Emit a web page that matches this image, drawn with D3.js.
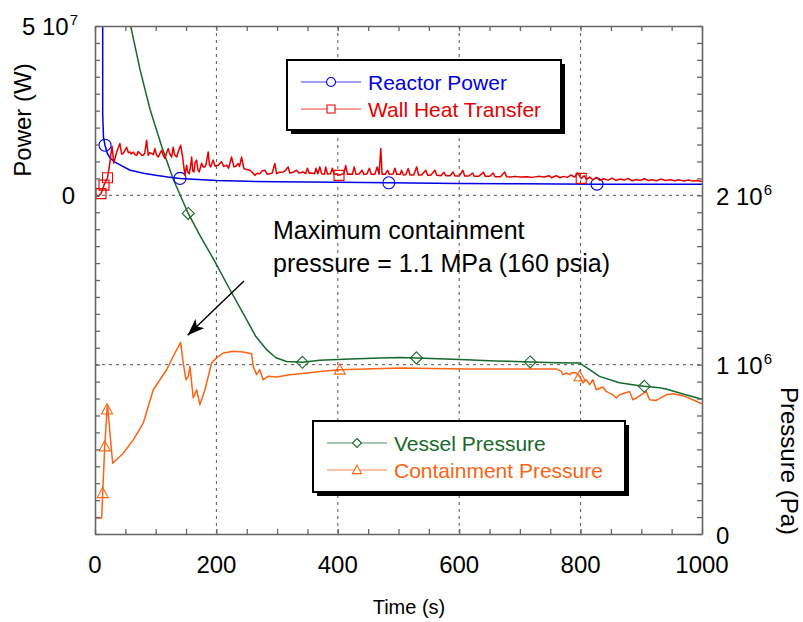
<!DOCTYPE html>
<html>
<head>
<meta charset="utf-8">
<script src="https://cdn.jsdelivr.net/npm/d3@7"></script>
<style>
  body { margin: 0; background: #fff; }
  svg { display: block; }
  text { font-family: "Liberation Sans", Arial, Helvetica, sans-serif; }
</style>
</head>
<body>
<svg id="chart" width="803" height="622"></svg>
<script>
// ---- data: time in s, power in MW, pressure in MPa ----
const reactorPower = [
  [0, 3000], [12.3, 3000], [12.7, 24], [14, 17], [16.5, 14.8], [20, 12.5], [25, 11],
  [33, 9.8], [45, 8.6], [58, 7.4], [80, 6.5], [100, 5.9], [120, 5.4], [140, 5.0],
  [170, 4.7], [200, 4.4], [250, 4.15], [300, 4.0], [400, 3.85], [484, 3.7],
  [600, 3.5], [700, 3.4], [827, 3.3], [1000, 3.3]
];
const powerMarkerTimes = [16.5, 140, 484, 827];

const wallHeat = [
  [0, 0], [5, -0.3], [9.9, 0.5], [14.8, 3.0], [20.6, 5.2], [24, 9.0], [28, 14.5], [31, 9.5],
  [35.7, 12.8], [41, 15.3], [44, 12.2], [46.6, 12.4], [52, 14.2], [55, 12.6], [57.6, 12.8],
  [60, 12.2], [63, 12.8], [66, 12.0], [68.6, 11.8], [71, 12.9], [74, 12.4], [77, 11.8],
  [79.5, 11.8], [82, 12.5], [85, 16.3], [87.8, 11.8], [90, 12.6], [93.3, 12.4], [96, 12.0],
  [98.8, 13.8], [101, 12.0], [104.2, 11.3], [107, 12.4], [109.8, 13.3], [112, 12.0],
  [115.2, 10.9], [118, 12.6], [120.7, 13.8], [123, 12.4], [126.2, 11.3], [128.9, 14.2],
  [131, 12.0], [134.5, 11.3], [137, 12.8], [141.1, 14.8], [144.4, 11.3], [148.1, 5.9],
  [150.9, 8.9], [153, 6.8], [155.3, 6.4], [157, 8.0], [159.2, 11.3], [161, 7.2], [163, 6.9],
  [165, 9.8], [167.4, 10.4], [169.5, 7.5], [171.7, 6.9], [175.6, 9.5], [178, 8.4], [181, 8.4],
  [183, 9.2], [186.5, 12.8], [188.5, 9.0], [190.4, 8.4], [194.7, 10.4], [198, 8.6], [203, 8.9],
  [206, 9.5], [208.5, 9.9], [212, 8.5], [216.8, 8.9], [220, 8.0], [225, 11.3], [228.8, 8.4],
  [232, 8.6], [235.9, 9.4], [238, 8.5], [241.5, 11.3], [245.3, 7.9], [250, 7.6], [255.1, 7.4],
  [259, 6.8], [263.4, 5.9], [267, 6.5], [271.6, 6.4], [275, 7.2], [279.8, 7.4], [284, 6.2],
  [288, 6.4], [292, 6.6], [296.3, 9.4], [299.1, 6.4], [304, 6.8], [310, 6.9], [314, 7.4],
  [318.2, 8.4], [321, 6.6], [326, 6.8], [332, 7.4], [336, 6.6], [342.9, 6.9], [347, 6.4],
  [350, 8.0], [353, 6.5], [356.6, 6.6], [362, 6.4], [364, 8.0], [367, 6.4], [370.4, 8.4],
  [373.2, 6.4], [378, 6.2], [380, 8.4], [383, 6.3], [388, 6.4], [391, 8.0], [394, 6.2],
  [398, 6.3], [402, 5.9], [406, 6.2], [410, 6.4], [413, 8.8], [416, 6.2], [420, 6.3],
  [424, 6.2], [427, 8.4], [430, 6.2], [435, 6.3], [440, 7.4], [443, 6.2], [448, 6.3],
  [452, 8.0], [455, 6.2], [461, 6.2], [465, 8.4], [468, 6.2], [470.8, 13.8], [473, 6.2],
  [478, 6.2], [482, 7.4], [485, 6.2], [491, 6.3], [494, 8.0], [497, 6.2], [503, 6.2],
  [505, 7.4], [508, 6.0], [512, 6.1], [516, 7.9], [519, 6.0], [525, 6.0], [530, 8.4],
  [533, 6.0], [538, 6.0], [545, 7.4], [548, 5.9], [553, 5.9], [560, 7.4], [563, 5.9],
  [570, 5.8], [575, 6.8], [578, 5.8], [585, 5.8], [590, 6.9], [593, 5.7], [600, 5.7],
  [606, 7.4], [609, 5.7], [616, 5.7], [622, 6.6], [625, 5.6], [632, 5.6], [640, 6.8],
  [643, 5.6], [650, 5.6], [656, 6.6], [659, 5.5], [668, 5.5], [675, 6.9], [678, 5.5],
  [685, 5.4], [692, 5.6], [700, 5.4], [712, 5.5], [720, 5.3], [730, 5.6], [740, 5.4],
  [748, 5.8], [752, 5.2], [760, 5.8], [766, 5.2], [772, 5.6], [778, 5.3], [784, 6.0],
  [790, 5.4], [795, 6.6], [801, 5.0], [806, 5.8], [810, 4.7], [815, 5.4], [820, 4.6],
  [826, 5.3], [832, 4.4], [838, 4.9], [845, 4.5], [852, 5.1], [858, 4.4], [865, 4.8],
  [872, 4.5], [878, 5.0], [885, 4.3], [892, 4.7], [898, 4.4], [905, 4.9], [912, 4.4],
  [918, 4.6], [925, 4.3], [932, 4.8], [940, 4.4], [948, 4.6], [955, 4.3], [962, 4.6],
  [970, 4.2], [978, 4.5], [985, 4.2], [992, 4.4], [1000, 4.1]
];
const wallMarkerTimes = [9.9, 14.8, 20.6, 402, 801];

const vesselPressure = [
  [0, 7.0], [20, 5.6], [40, 4.1], [58.8, 3.0], [74, 2.745], [90.5, 2.51], [109.8, 2.29],
  [128.9, 2.095], [153.6, 1.893], [172.8, 1.763], [197.5, 1.609], [222.2, 1.444],
  [249.7, 1.266], [265, 1.166], [282.6, 1.089], [298, 1.041], [315.6, 1.019], [341.7, 1.014],
  [370, 1.026], [420, 1.034], [470, 1.040], [502, 1.043], [529.5, 1.040], [601, 1.030],
  [660, 1.022], [717, 1.016], [760, 1.012], [798, 1.010], [815, 0.970], [831, 0.931],
  [864, 0.893], [897, 0.876], [905, 0.872], [930, 0.864], [941, 0.856], [970, 0.825],
  [996, 0.800], [1000, 0.798]
];
const vesselMarkerTimes = [153.6, 341.7, 529.5, 717, 905];

const containmentPressure = [
  [0, 0.095], [11.0, 0.095], [12.7, 0.241], [16.0, 0.517], [19.8, 0.735], [20.4, 0.763],
  [29.1, 0.418], [46.6, 0.477], [63.0, 0.556], [79.5, 0.655], [96.0, 0.852], [118.0, 0.970],
  [131.7, 1.069], [141.1, 1.132], [145.3, 1.010], [149.8, 0.911], [153.6, 0.931],
  [156.4, 0.990], [161.8, 0.803], [167.4, 0.852], [172.8, 0.763], [181.1, 0.852],
  [192.1, 1.010], [200.3, 1.040], [211.2, 1.069], [227.7, 1.079], [244.1, 1.075],
  [257.9, 1.065], [260.6, 0.990], [266.2, 0.941], [271.6, 0.970], [277.0, 0.911],
  [285.3, 0.931], [299.1, 0.927], [321.0, 0.941], [348.5, 0.951], [370.4, 0.960],
  [403.3, 0.970], [502, 0.980], [611.9, 0.975], [760, 0.975], [768.2, 0.960], [770.9, 0.941],
  [776.5, 0.951], [781.9, 0.941], [786.8, 0.954], [792.9, 0.951], [798.4, 0.931],
  [803.8, 0.892], [809.4, 0.911], [814.8, 0.882], [820.2, 0.911], [825.8, 0.852],
  [836.7, 0.868], [842.3, 0.842], [853.2, 0.822], [858.8, 0.803], [864.2, 0.822],
  [880.7, 0.842], [886.1, 0.793], [891.7, 0.803], [908.2, 0.842], [913.6, 0.793],
  [924.6, 0.789], [941.1, 0.822], [952.0, 0.828], [968.4, 0.817], [984.9, 0.793],
  [1000, 0.769]
];
const containmentMarkerTimes = [12.7, 16.0, 19.8, 403.3, 798.4];

// ---- axis ticks and labels ----
const timeTicks = d3.range(0, 1001, 50);
const timeLabels = [0, 200, 400, 600, 800, 1000];
const timeGrid = [200, 400, 600, 800];
const powerTicks = d3.range(-100e6, 50e6 + 1, 5e6);
const powerLabels = [{ v: 0, base: "0" }, { v: 5e7, base: "5 10", exp: "7" }];
const pressureTicks = d3.range(0, 3e6 + 1, 1e5);
const pressureLabels = [
  { v: 0, base: "0" }, { v: 1e6, base: "1 10", exp: "6" }, { v: 2e6, base: "2 10", exp: "6" }
];
const pressureGrid = [1e6, 2e6];

const MW = 1e6, MPa = 1e6;

// ---- layout ----
const plot = { left: 95, right: 702, top: 26, bottom: 534 };
const svg = d3.select("#chart");

const x = d3.scaleLinear().domain([0, 1000]).range([plot.left, plot.right]);
const yPower = d3.scaleLinear().domain([-100e6, 50e6]).range([plot.bottom, plot.top]);
const yPress = d3.scaleLinear().domain([0, 3e6]).range([plot.bottom, plot.top]);

const colors = {
  power: "#0000e6", wall: "#e60000", vessel: "#17692b", containment: "#fa6414",
  axis: "#666", grid: "#555"
};

const defs = svg.append("defs");
defs.append("clipPath").attr("id", "plotClip")
  .append("rect")
  .attr("x", plot.left).attr("y", plot.top)
  .attr("width", plot.right - plot.left).attr("height", plot.bottom - plot.top);

// dashed grid lines
const grid = svg.append("g").attr("stroke", colors.grid).attr("stroke-width", 1)
  .attr("stroke-dasharray", "3,4");
grid.selectAll("line.v").data(timeGrid).join("line").attr("class", "v")
  .attr("x1", d => x(d)).attr("x2", d => x(d))
  .attr("y1", plot.top).attr("y2", plot.bottom);
grid.selectAll("line.h").data(pressureGrid).join("line").attr("class", "h")
  .attr("x1", plot.left).attr("x2", plot.right)
  .attr("y1", d => yPress(d)).attr("y2", d => yPress(d));

// marker shapes
function markerPath(kind, s) {
  const h = s / 2;
  if (kind === "circle") return d3.arc()({ innerRadius: 0, outerRadius: h, startAngle: 0, endAngle: 2 * Math.PI });
  if (kind === "square") return `M${-h},${-h}H${h}V${h}H${-h}Z`;
  if (kind === "diamond") return `M0,${-h}L${h},0L0,${h}L${-h},0Z`;
  if (kind === "triangle") return `M0,${-h * 1.05}L${h},${h * 0.8}L${-h},${h * 0.8}Z`;
}

const series = [
  { data: reactorPower, markers: powerMarkerTimes, y: d => yPower(d * MW), color: colors.power, kind: "circle", size: 12 },
  { data: wallHeat, markers: wallMarkerTimes, y: d => yPower(d * MW), color: colors.wall, kind: "square", size: 10 },
  { data: vesselPressure, markers: vesselMarkerTimes, y: d => yPress(d * MPa), color: colors.vessel, kind: "diamond", size: 12 },
  { data: containmentPressure, markers: containmentMarkerTimes, y: d => yPress(d * MPa), color: colors.containment, kind: "triangle", size: 11 }
];

const lines = svg.append("g").attr("clip-path", "url(#plotClip)");
// pressures first, power curves drawn over them
[series[3], series[2], series[0], series[1]].forEach(s => {
  const line = d3.line().x(d => x(d[0])).y(d => s.y(d[1]));
  lines.append("path").datum(s.data)
    .attr("d", line).attr("fill", "none")
    .attr("stroke", s.color).attr("stroke-width", 1.5).attr("stroke-linejoin", "round");
  const pts = s.markers.map(t => s.data.find(d => d[0] === t)).filter(Boolean);
  lines.selectAll(null).data(pts).join("path")
    .attr("transform", d => `translate(${x(d[0])},${s.y(d[1])})`)
    .attr("d", markerPath(s.kind, s.size))
    .attr("fill", "none").attr("stroke", s.color).attr("stroke-width", 1.1);
});

// frame with inward ticks on all four sides
const axes = svg.append("g");
function styleAxis(g) {
  g.select(".domain").attr("stroke", colors.axis).attr("stroke-width", 1.6);
  g.selectAll(".tick line").attr("stroke", colors.axis).attr("stroke-width", 1.3);
}
axes.append("g").attr("transform", `translate(0,${plot.bottom})`)
  .call(d3.axisBottom(x).tickValues(timeTicks).tickSize(-5).tickSizeOuter(0).tickFormat(""))
  .call(styleAxis);
axes.append("g").attr("transform", `translate(0,${plot.top})`)
  .call(d3.axisTop(x).tickValues(timeTicks).tickSize(-5).tickSizeOuter(0).tickFormat(""))
  .call(styleAxis);
axes.append("g").attr("transform", `translate(${plot.left},0)`)
  .call(d3.axisLeft(yPower).tickValues(powerTicks).tickSize(-5).tickSizeOuter(0).tickFormat(""))
  .call(styleAxis);
axes.append("g").attr("transform", `translate(${plot.right},0)`)
  .call(d3.axisRight(yPress).tickValues(pressureTicks).tickSize(-5).tickSizeOuter(0).tickFormat(""))
  .call(styleAxis);

// tick labels
const labelSize = 24;
svg.append("g").selectAll("text").data(timeLabels).join("text")
  .attr("x", d => x(d)).attr("y", 573)
  .attr("text-anchor", "middle").attr("font-size", labelSize).attr("fill", "#000")
  .text(d => d);

function sciLabel(g, d, anchor) {
  const t = g.append("text").attr("font-size", labelSize).attr("fill", "#000")
    .attr("text-anchor", anchor);
  t.append("tspan").text(d.base);
  if (d.exp) t.append("tspan").attr("font-size", 15).attr("dy", -10).attr("dx", 1).text(d.exp);
  return t;
}
const leftLab = svg.append("g");
powerLabels.forEach(d => {
  sciLabel(leftLab, d, "end").attr("x", d.exp ? 78 : 75)
    .attr("y", Math.max(yPower(d.v) + 9, 33));
});
const rightLab = svg.append("g");
pressureLabels.forEach(d => {
  sciLabel(rightLab, d, "start").attr("x", 716).attr("y", yPress(d.v) + 9.5);
});

// axis titles
svg.append("text").attr("x", 409).attr("y", 614)
  .attr("text-anchor", "middle").attr("font-size", 20).text("Time (s)");
svg.append("text").attr("transform", "translate(31,120) rotate(-90)")
  .attr("text-anchor", "middle").attr("font-size", 24).text("Power (W)");
svg.append("text").attr("transform", "translate(781,461) rotate(90)")
  .attr("text-anchor", "middle").attr("font-size", 24).text("Pressure (Pa)");

// legends
function legend(box, items) {
  const g = svg.append("g");
  g.append("rect").attr("x", box.x + 4).attr("y", box.y + 4)
    .attr("width", box.w).attr("height", box.h).attr("fill", "#000");
  g.append("rect").attr("x", box.x).attr("y", box.y)
    .attr("width", box.w).attr("height", box.h)
    .attr("fill", "#fff").attr("stroke", "#000").attr("stroke-width", 2);
  items.forEach((it, i) => {
    const cy = box.y + box.row0 + i * box.rowGap;
    g.append("line").attr("x1", box.x + 14).attr("x2", box.x + 74)
      .attr("y1", cy).attr("y2", cy).attr("stroke", it.color).attr("stroke-width", 1.2)
      .attr("opacity", 0.75);
    g.append("path").attr("transform", `translate(${box.x + 44},${cy})`)
      .attr("d", markerPath(it.kind, it.size))
      .attr("fill", "#fff").attr("stroke", it.color).attr("stroke-width", 1.1);
    g.append("text").attr("x", box.x + 81).attr("y", cy + 7.5)
      .attr("font-size", 21).attr("fill", it.color).text(it.name);
  });
}
legend({ x: 287, y: 60, w: 274, h: 70, row0: 22, rowGap: 27 }, [
  { name: "Reactor Power", color: colors.power, kind: "circle", size: 9 },
  { name: "Wall Heat Transfer", color: colors.wall, kind: "square", size: 8 }
]);
legend({ x: 313, y: 421, w: 312, h: 71, row0: 22, rowGap: 27 }, [
  { name: "Vessel Pressure", color: colors.vessel, kind: "diamond", size: 9 },
  { name: "Containment Pressure", color: colors.containment, kind: "triangle", size: 9 }
]);

// annotation pointing at the containment peak
const peak = containmentPressure.reduce((a, b) => (b[1] > a[1] ? b : a));
const note = svg.append("g");
note.append("text").attr("x", 273).attr("y", 239).attr("font-size", 25)
  .text("Maximum containment");
note.append("text").attr("x", 273).attr("y", 272).attr("font-size", 25)
  .text("pressure = 1.1 MPa (160 psia)");
defs.append("marker").attr("id", "arrowHead")
  .attr("viewBox", "0 0 16 12").attr("refX", 16).attr("refY", 6)
  .attr("markerWidth", 17).attr("markerHeight", 13).attr("markerUnits", "userSpaceOnUse")
  .attr("orient", "auto")
  .append("path").attr("d", "M0,0L16,6L0,12L4,6Z").attr("fill", "#000");
note.append("line")
  .attr("x1", 244).attr("y1", 281)
  .attr("x2", x(peak[0]) + 7).attr("y2", yPress(peak[1] * MPa) - 7)
  .attr("stroke", "#000").attr("stroke-width", 1.4).attr("marker-end", "url(#arrowHead)");
</script>
</body>
</html>
